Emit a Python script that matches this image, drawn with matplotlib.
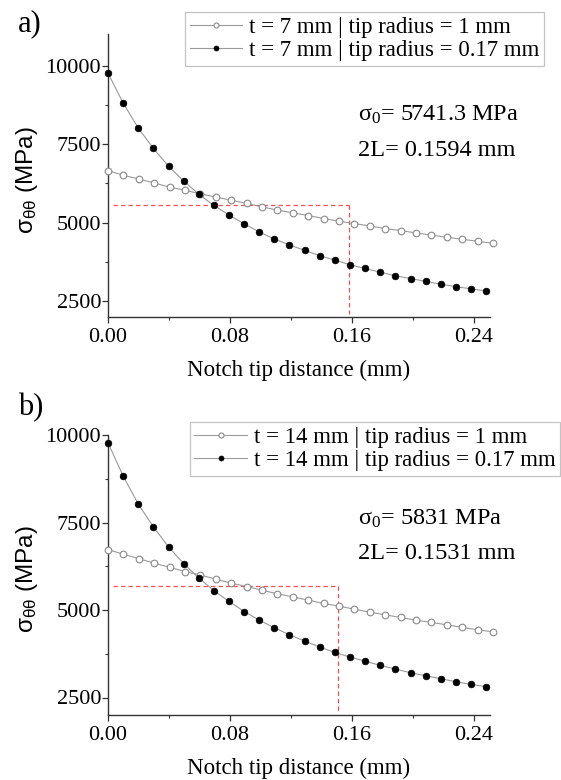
import numpy as np
import matplotlib
matplotlib.use("Agg")
import matplotlib.pyplot as plt
from matplotlib.ticker import MultipleLocator

plt.rcParams['font.family'] = ['Liberation Serif', 'DejaVu Serif']
plt.rcParams['mathtext.fontset'] = 'custom'
plt.rcParams['mathtext.rm'] = 'Liberation Serif'
plt.rcParams['mathtext.default'] = 'regular'

# notch tip distance (mm)
x_r1 = [0.0, 0.0101, 0.0202, 0.0303, 0.0404, 0.0505, 0.0606, 0.0707, 0.0808, 0.0909,
        0.1010, 0.1111, 0.1212, 0.1313, 0.1414, 0.1515, 0.1616, 0.1717, 0.1818, 0.1919,
        0.2020, 0.2121, 0.2222, 0.2323, 0.2424, 0.2525]
x_r017 = [0.0, 0.0099, 0.0198, 0.0298, 0.0397, 0.0496, 0.0595, 0.0694, 0.0794, 0.0893,
          0.0992, 0.1091, 0.1190, 0.1290, 0.1389, 0.1488, 0.1587, 0.1686, 0.1786, 0.1885,
          0.1984, 0.2083, 0.2182, 0.2282, 0.2381, 0.2480]

# a) t = 7 mm
a_r1 = [6656, 6506, 6389, 6261, 6132, 6026, 5919, 5812, 5716, 5609, 5502, 5396, 5310,
        5225, 5129, 5043, 4968, 4893, 4808, 4744, 4670, 4600, 4532, 4468, 4404, 4340]
a_r017 = [9765, 8814, 8013, 7361, 6795, 6325, 5908, 5545, 5240, 4958, 4701, 4477, 4285,
          4114, 3943, 3804, 3654, 3537, 3419, 3302, 3216, 3125, 3035, 2960, 2885, 2821]

# b) t = 14 mm
b_r1 = [6726, 6593, 6469, 6336, 6221, 6098, 6002, 5879, 5766, 5671, 5566, 5462, 5376,
        5281, 5186, 5110, 5024, 4938, 4862, 4786, 4710, 4644, 4577, 4501, 4434, 4377]
b_r017 = [9780, 8829, 8030, 7373, 6802, 6326, 5917, 5555, 5243, 4957, 4710, 4491, 4292,
          4111, 3940, 3787, 3654, 3540, 3416, 3312, 3207, 3122, 3036, 2950, 2874, 2808]

# critical distance guides: (sigma level, 2L position, lower end)
a_guide = (5570, 0.158, 2100)
b_guide = (5680, 0.151, 2050)

a_labels = ['t = 7 mm | tip radius = 1 mm', 't = 7 mm | tip radius = 0.17 mm']
b_labels = ['t = 14 mm | tip radius = 1 mm', 't = 14 mm | tip radius = 0.17 mm']
a_text = [r'$\mathregular{σ_0}$= 5741.3 MPa', '2L= 0.1594 mm']
b_text = [r'$\mathregular{σ_0}$= 5831 MPa', '2L= 0.1531 mm']

W, H = 561, 780
fig = plt.figure(figsize=(W / 100, H / 100), dpi=100)

line_c = '#9a9a9a'
red = '#f05050'


def panel(rect, y_open, y_solid, guide, labels, texts, ylim, leg_anchor, txt_y):
    ax = fig.add_axes(rect)
    ax.plot(x_r1, y_open, '-o', color=line_c, lw=0.8, ms=4.8, mfc='white',
            mec='#8a8a8a', mew=0.8, label=labels[0], clip_on=False, zorder=3)
    ax.plot(x_r017, y_solid, '-o', color=line_c, lw=0.8, ms=4.8, mfc='black',
            mec='black', mew=0.5, label=labels[1], clip_on=False, zorder=3)
    lvl, x2l, ylo = guide
    ax.plot([0.003, x2l], [lvl, lvl], '--', color=red, lw=0.9, dashes=(3.5, 2.5), zorder=2)
    ax.plot([x2l, x2l], [lvl, ylo], '--', color=red, lw=0.9, dashes=(3.5, 2.5), zorder=2)

    ax.set_xlim(0, 0.2505)
    ax.set_ylim(*ylim)
    ax.xaxis.set_minor_locator(MultipleLocator(0.04))
    ax.yaxis.set_minor_locator(MultipleLocator(1250))
    ax.set_xticks([0, 0.08, 0.16, 0.24])
    ax.set_xticklabels(['0.00', '0.08', '0.16', '0.24'])
    ax.set_yticks([2500, 5000, 7500, 10000])
    for s in ['top', 'right']:
        ax.spines[s].set_visible(False)
    for s in ['left', 'bottom']:
        ax.spines[s].set_color('#333333')
        ax.spines[s].set_linewidth(1.0)
    ax.tick_params(which='major', direction='out', length=4, width=0.9,
                   color='#333333', labelsize=16)
    ax.tick_params(which='minor', direction='out', length=2.5, width=0.8, color='#333333')
    ax.tick_params(axis='y', pad=1)
    ax.tick_params(axis='x', pad=4)

    ax.set_xlabel('Notch tip distance (mm)', fontsize=16.5)
    ax.xaxis.set_label_coords(0.5, -0.19)
    ax.xaxis.label.set_va('center')
    ax.set_ylabel(r'$\mathregular{σ_{θθ}}$ (MPa)', fontsize=17.5,
                  fontfamily=['Liberation Sans', 'DejaVu Sans'])
    ax.yaxis.set_label_coords(-0.212, 0.485)
    ax.yaxis.label.set_va('center')

    ax.text(0.655, txt_y[0], texts[0], transform=ax.transAxes, fontsize=17.5, va='center')
    ax.text(0.655, txt_y[1], texts[1], transform=ax.transAxes, fontsize=17.5, va='center')

    leg = ax.legend(loc='upper right', bbox_to_anchor=leg_anchor,
                    bbox_transform=fig.transFigure, fontsize=16.4, frameon=True,
                    fancybox=False, edgecolor='#b5b5b5', borderaxespad=0,
                    handlelength=2.3, handletextpad=0.3, labelspacing=0.12,
                    borderpad=0.2, markerscale=0.75)
    leg.get_frame().set_linewidth(0.9)
    return ax


panel([108 / W, 1 - 316.7 / H, 382 / W, 282.4 / H], a_r1, a_r017, a_guide,
      a_labels, a_text, (2000, 11000), (544 / W, 1 - 12 / H), (0.715, 0.59))
panel([108 / W, 1 - 715 / H, 382 / W, 280 / H], b_r1, b_r017, b_guide,
      b_labels, b_text, (2000, 10000), (560 / W, 1 - 422 / H), (0.70, 0.578))

fig.text(18 / W, 1 - 24 / H, 'a)', fontsize=22, va='center', ha='left')
fig.text(18 / W, 1 - 408 / H, 'b)', fontsize=22, va='center', ha='left')

fig.savefig('out.png', dpi=100)
